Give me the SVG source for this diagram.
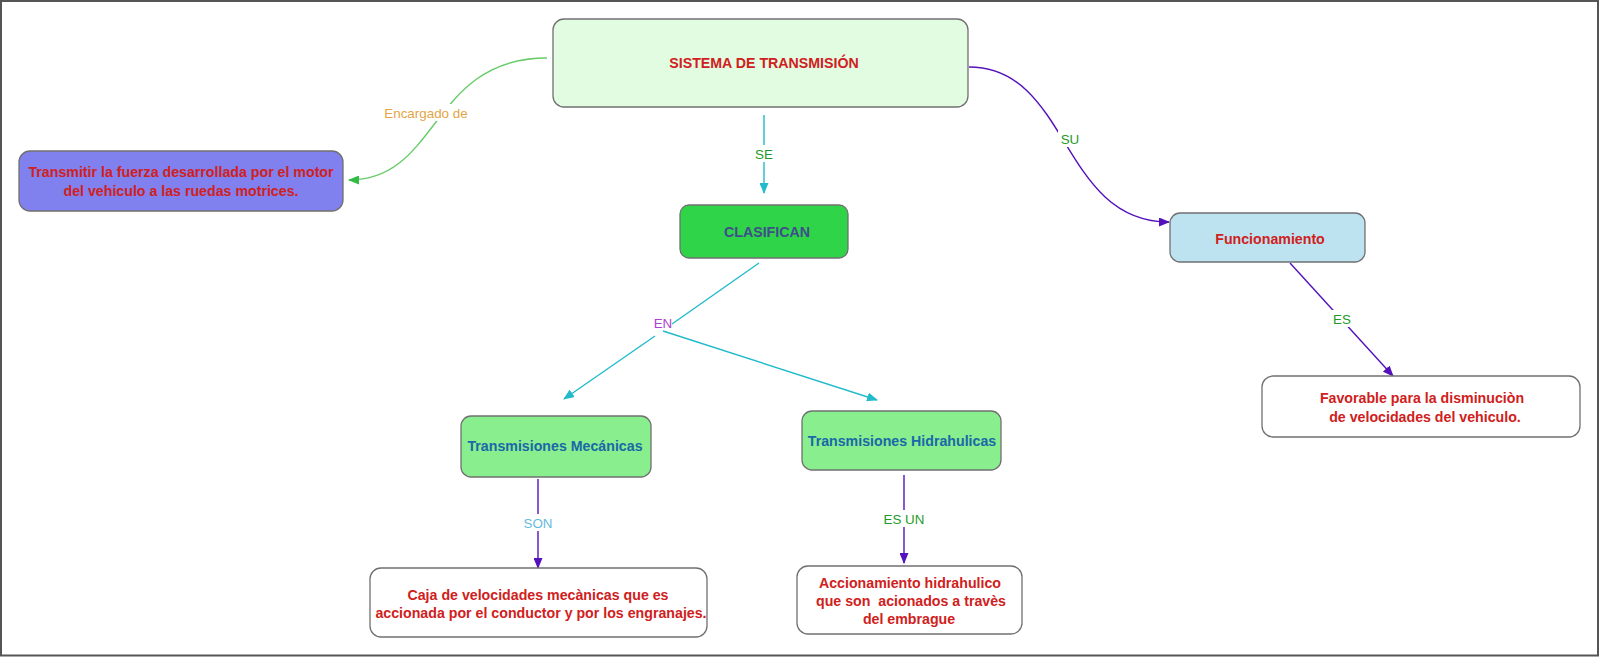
<svg xmlns="http://www.w3.org/2000/svg" width="1600" height="657" viewBox="0 0 1600 657">
<style>
.node rect{stroke:#707070;stroke-width:1.3}
.t{font-family:"Liberation Sans",Arial,sans-serif;font-size:14.2px;font-weight:bold;text-anchor:middle}
.red{fill:#d02020}
.lbl{font-family:"Liberation Sans",Arial,sans-serif;font-size:13.4px;text-anchor:middle}
.edge{fill:none;stroke-width:1.4}
.bg{fill:#ffffff}
</style>
<defs>
<marker id="aG" markerWidth="11" markerHeight="9" refX="10" refY="4.5" orient="auto" markerUnits="userSpaceOnUse"><path d="M0,0 L11,4.5 L0,9 z" fill="#33bb44"/></marker>
<marker id="aC" markerWidth="11" markerHeight="9" refX="10" refY="4.5" orient="auto" markerUnits="userSpaceOnUse"><path d="M0,0 L11,4.5 L0,9 z" fill="#22bbcc"/></marker>
<marker id="aP" markerWidth="11" markerHeight="9" refX="10" refY="4.5" orient="auto" markerUnits="userSpaceOnUse"><path d="M0,0 L11,4.5 L0,9 z" fill="#5511bb"/></marker>
</defs>
<rect x="0" y="0" width="1600" height="657" fill="#ffffff"/>
<rect x="1" y="1" width="1597" height="654.5" fill="none" stroke="#555555" stroke-width="2"/>

<g id="connectors">
  <path class="edge" d="M547,58 C430,58 440,180 349,180" stroke="#66cc66" marker-end="url(#aG)"/>
  <path class="edge" d="M764,115 L764,193" stroke="#22bbcc" marker-end="url(#aC)"/>
  <path class="edge" d="M969,67 C1070,67 1060,222 1169,222" stroke="#5511bb" marker-end="url(#aP)"/>
  <path class="edge" d="M1290,263 L1393,376" stroke="#5511bb" marker-end="url(#aP)"/>
  <path class="edge" d="M759,263 L672,324" stroke="#22bbcc"/>
  <path class="edge" d="M655,336 L564,399" stroke="#22bbcc" marker-end="url(#aC)"/>
  <path class="edge" d="M663,331 L877,400" stroke="#22bbcc" marker-end="url(#aC)"/>
  <path class="edge" d="M538,479 L538,568" stroke="#5511bb" marker-end="url(#aP)"/>
  <path class="edge" d="M904,475 L904,563" stroke="#5511bb" marker-end="url(#aP)"/>

  <rect class="bg" x="382" y="104" width="88" height="17"/>
  <text class="lbl" x="426" y="118" fill="#e4a445">Encargado de</text>
  <rect class="bg" x="752" y="145" width="24" height="17"/>
  <text class="lbl" x="764" y="159" fill="#1f9a2a">SE</text>
  <rect class="bg" x="1058" y="130" width="24" height="17"/>
  <text class="lbl" x="1070" y="144" fill="#1f9a2a">SU</text>
  <rect class="bg" x="1330" y="310" width="24" height="17"/>
  <text class="lbl" x="1342" y="324" fill="#1f9a2a">ES</text>
  <text class="lbl" x="663" y="328" fill="#aa44cc">EN</text>
  <rect class="bg" x="522" y="514" width="32" height="17"/>
  <text class="lbl" x="538" y="528" fill="#66bbdd">SON</text>
  <rect class="bg" x="884" y="510" width="40" height="17"/>
  <text class="lbl" x="904" y="524" fill="#1f9a2a">ES UN</text>
</g>

<g id="n-sistema" class="node">
  <rect x="553" y="19" width="415" height="88" rx="11" fill="#e2fce2"/>
  <text class="t red" x="764" y="68">SISTEMA DE TRANSMISIÓN</text>
</g>
<g id="n-transmitir" class="node">
  <rect x="19" y="151" width="324" height="60" rx="11" fill="#8080ee"/>
  <text class="t red" x="181" y="177">Transmitir la fuerza desarrollada por el motor</text>
  <text class="t red" x="181" y="196"> del vehiculo a las ruedas motrices.</text>
</g>
<g id="n-clasifican" class="node">
  <rect x="680" y="205" width="168" height="53" rx="9" fill="#30d448"/>
  <text class="t" x="767" y="237" fill="#3f4d8c">CLASIFICAN</text>
</g>
<g id="n-funcionamiento" class="node">
  <rect x="1170" y="213" width="195" height="49" rx="10" fill="#bde3f1"/>
  <text class="t red" x="1270" y="244">Funcionamiento</text>
</g>
<g id="n-favorable" class="node">
  <rect x="1262" y="376" width="318" height="61" rx="11" fill="#ffffff"/>
  <text class="t red" x="1422" y="403">Favorable para la disminuciòn</text>
  <text class="t red" x="1425" y="422"> de velocidades del vehiculo.</text>
</g>
<g id="n-mecanicas" class="node">
  <rect x="461" y="416" width="190" height="61" rx="10" fill="#88ee8e"/>
  <text class="t" x="555" y="451" fill="#1a68a8">Transmisiones Mecánicas</text>
</g>
<g id="n-hidrahulicas" class="node">
  <rect x="802" y="411" width="199" height="59" rx="10" fill="#88ee8e"/>
  <text class="t" x="902" y="446" fill="#1a68a8">Transmisiones Hidrahulicas</text>
</g>
<g id="n-caja" class="node">
  <rect x="370" y="568" width="337" height="69" rx="11" fill="#ffffff"/>
  <text class="t red" x="538" y="600">Caja de velocidades mecànicas que es</text>
  <text class="t red" x="541" y="618">accionada por el conductor y por los engranajes.</text>
</g>
<g id="n-accionamiento" class="node">
  <rect x="797" y="566" width="225" height="68" rx="11" fill="#ffffff"/>
  <text class="t red" x="910" y="588">Accionamiento hidrahulico</text>
  <text class="t red" x="911" y="606" xml:space="preserve">que son  acionados a travès</text>
  <text class="t red" x="909" y="624">del embrague</text>
</g>
</svg>
